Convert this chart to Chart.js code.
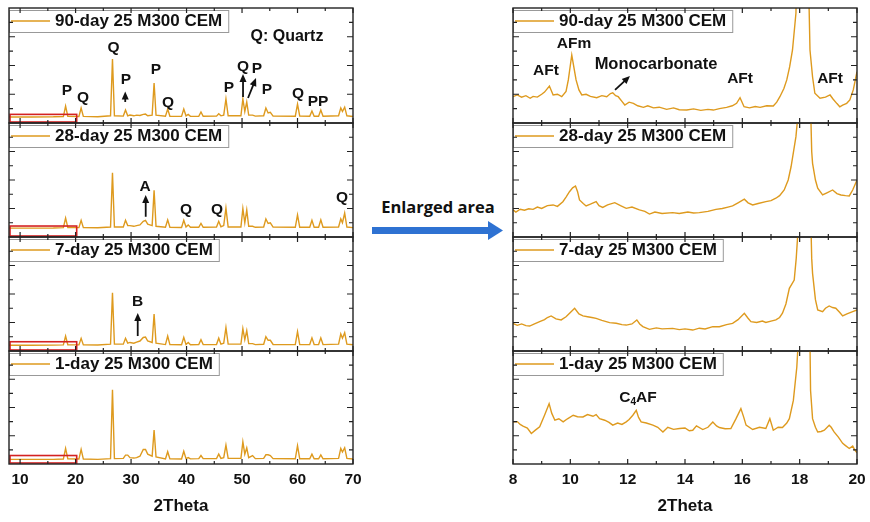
<!DOCTYPE html>
<html>
<head>
<meta charset="utf-8">
<script src="https://cdn.jsdelivr.net/npm/chart.js@4.4.0/dist/chart.umd.min.js"></script>
<style>
  body { margin: 0; background: #fff; width: 870px; height: 522px; position: relative; overflow: hidden; }
  canvas { position: absolute; }
  #enlarged { position: absolute; left: 360px; top: 195px; width: 156px; text-align: center;
              font: bold 16.5px "Open Sans", Lato, sans-serif; color: #111; }
  #blueArrow { position: absolute; left: 370px; top: 220px; }
</style>
</head>
<body>
<div id="enlarged">Enlarged area</div>
<svg id="blueArrow" width="136" height="22">
  <rect x="2" y="7" width="118" height="7" fill="#2E72D2"></rect>
  <polygon points="118,1 133,10.5 118,20" fill="#2E72D2"></polygon>
</svg>
<script>
// ---- data ----
var sampleLabels = ['90-day 25 M300 CEM', '28-day 25 M300 CEM', '7-day 25 M300 CEM', '1-day 25 M300 CEM'];

// full scan, 2Theta 8-70 (shared x for all four ages)
var fullX = [8, 12, 16, 17.8, 18.2, 18.6, 20.6, 21.0, 21.4, 24, 26.3, 26.65, 27.0, 28.6, 29.0, 29.4, 29.8, 30.5, 31.0, 31.6,
  32.2, 32.6, 33.0, 33.8, 34.15, 34.5, 36.2, 36.6, 37.0, 39.1, 39.5, 39.9, 40.3, 40.7, 42.2, 42.6, 43.0, 45.4, 45.8, 46.2,
  46.7, 47.1, 47.5, 49.8, 50.15, 50.5, 50.85, 51.2, 51.9, 52.4, 53.9, 54.3, 54.7, 55.1, 55.6, 59.6, 60.0, 60.4, 62.2, 62.6,
  63.0, 63.8, 64.2, 64.6, 67.4, 67.8, 68.1, 68.5, 68.9, 70];
var full90 = [0.42, 0.42, 0.43, 0.45, 1.18, 0.46, 0.45, 1.04, 0.46, 0.44, 0.50, 4.45, 0.50, 0.48, 0.90, 0.50, 0.55, 0.50, 0.55, 0.52,
  0.60, 0.62, 0.50, 0.55, 2.78, 0.55, 0.47, 0.97, 0.47, 0.46, 0.97, 0.50, 0.60, 0.46, 0.47, 0.77, 0.47, 0.48, 0.65, 0.50,
  0.55, 1.67, 0.50, 0.50, 1.67, 0.80, 1.46, 0.55, 0.55, 0.48, 0.50, 1.04, 0.70, 0.75, 0.48, 0.47, 1.32, 0.48, 0.47, 0.83,
  0.47, 0.47, 0.90, 0.47, 0.50, 1.05, 0.80, 1.10, 0.50, 0.45];
var full28 = [0.62, 0.62, 0.63, 0.66, 1.33, 0.67, 0.66, 1.17, 0.66, 0.65, 0.70, 4.50, 0.70, 0.70, 1.17, 0.80, 0.80, 0.75, 0.80, 0.85,
  1.10, 1.17, 0.90, 0.80, 3.27, 0.75, 0.68, 1.20, 0.68, 0.67, 1.17, 0.70, 0.85, 0.68, 0.68, 0.95, 0.68, 0.70, 1.10, 0.72,
  0.80, 2.03, 0.70, 0.70, 2.00, 1.00, 1.90, 0.75, 0.75, 0.68, 0.70, 1.27, 0.95, 1.00, 0.70, 0.68, 1.55, 0.68, 0.68, 1.17,
  0.68, 0.68, 1.20, 0.68, 0.70, 1.27, 1.00, 1.67, 0.70, 0.66];
var full7 = [0.40, 0.40, 0.41, 0.43, 1.05, 0.44, 0.43, 0.89, 0.43, 0.42, 0.48, 4.09, 0.48, 0.48, 0.89, 0.55, 0.60, 0.55, 0.62, 0.70,
  0.95, 0.98, 0.70, 0.60, 2.60, 0.55, 0.45, 1.05, 0.45, 0.44, 0.96, 0.46, 0.60, 0.44, 0.45, 0.80, 0.45, 0.46, 0.90, 0.48,
  0.55, 1.64, 0.48, 0.48, 1.57, 0.80, 1.43, 0.52, 0.52, 0.45, 0.47, 1.00, 0.75, 0.75, 0.46, 0.45, 1.36, 0.45, 0.45, 0.92,
  0.45, 0.45, 0.92, 0.45, 0.48, 1.20, 0.90, 1.28, 0.48, 0.44];
var full1 = [0.33, 0.33, 0.33, 0.35, 1.10, 0.36, 0.35, 1.03, 0.35, 0.33, 0.38, 5.26, 0.38, 0.40, 0.63, 0.63, 0.45, 0.42, 0.45, 0.55,
  1.03, 1.03, 0.70, 0.55, 2.40, 0.50, 0.36, 0.87, 0.36, 0.35, 0.90, 0.38, 0.45, 0.36, 0.38, 0.60, 0.38, 0.38, 0.70, 0.40,
  0.45, 1.34, 0.40, 0.40, 1.57, 0.70, 1.15, 0.45, 0.60, 0.38, 0.40, 0.65, 0.65, 0.60, 0.38, 0.37, 1.30, 0.37, 0.37, 0.70,
  0.37, 0.37, 0.65, 0.37, 0.40, 1.10, 0.85, 1.15, 0.40, 0.35];

// enlarged area, 2Theta 8-20
var zoom90X = [8.0, 8.15, 8.3, 8.45, 8.6, 8.7, 8.85, 9.0, 9.1, 9.27, 9.4, 9.55, 9.7, 9.85, 9.93, 10.05, 10.2, 10.3, 10.4, 10.55,
  10.7, 10.92, 11.1, 11.27, 11.4, 11.48, 11.58, 11.67, 11.8, 11.9, 12.05, 12.2, 12.35, 12.55, 12.7, 12.9, 13.1, 13.36, 13.6, 13.8,
  14.06, 14.3, 14.55, 14.8, 14.99, 15.2, 15.45, 15.65, 15.8, 15.92, 16.06, 16.25, 16.45, 16.62, 16.85, 17.08, 17.2, 17.31, 17.45, 17.55,
  17.65, 17.75, 17.87, 18.1, 18.36, 18.45, 18.53, 18.71, 18.9, 19.06, 19.17, 19.3, 19.4, 19.5, 19.64, 19.75, 19.87, 20.0];
var zoom90Y = [1.83, 1.95, 1.80, 1.90, 1.72, 1.85, 1.80, 2.00, 2.15, 2.57, 1.95, 2.00, 1.83, 2.20, 3.00, 4.73, 3.00, 2.30, 1.95, 2.00,
  1.85, 1.76, 1.90, 1.83, 2.05, 2.10, 1.90, 1.83, 1.50, 1.25, 1.45, 1.37, 1.20, 1.09, 1.20, 1.05, 1.10, 0.95, 1.05, 0.92,
  0.90, 0.98, 0.88, 0.95, 0.90, 1.00, 1.09, 1.20, 1.37, 1.76, 1.13, 1.05, 1.15, 1.09, 1.20, 1.18, 1.45, 1.83, 2.40, 3.00,
  3.90, 5.08, 7.63, 30, 5.08, 3.20, 2.07, 1.72, 1.80, 1.95, 1.65, 1.35, 1.13, 1.25, 1.37, 1.60, 2.30, 3.57];

var zoom28X = [8.0, 8.1, 8.25, 8.4, 8.55, 8.7, 8.85, 9.0, 9.2, 9.4, 9.55, 9.74, 9.85, 9.97, 10.08, 10.18, 10.25, 10.32, 10.45, 10.55,
  10.7, 10.9, 11.0, 11.13, 11.3, 11.55, 11.75, 11.95, 12.15, 12.41, 12.6, 12.76, 12.95, 13.2, 13.57, 13.8, 14.1, 14.3, 14.5, 14.8,
  15.08, 15.3, 15.5, 15.66, 15.85, 16.07, 16.2, 16.36, 16.55, 16.82, 17.0, 17.17, 17.3, 17.46, 17.6, 17.7, 17.87, 17.96, 18.12, 18.42,
  18.45, 18.55, 18.63, 18.8, 18.95, 19.15, 19.3, 19.44, 19.6, 19.73, 19.85, 20.0];
var zoom28Y = [1.90, 1.75, 1.95, 1.88, 1.98, 1.94, 2.10, 2.00, 2.20, 2.25, 2.15, 2.48, 2.80, 3.18, 3.45, 3.58, 3.20, 2.60, 2.35, 2.18,
  2.30, 2.48, 2.20, 2.08, 2.25, 2.41, 2.20, 2.01, 2.10, 1.90, 1.80, 1.61, 1.75, 1.65, 1.71, 1.65, 1.75, 1.68, 1.71, 1.80,
  1.94, 2.00, 2.10, 2.18, 2.40, 2.65, 2.40, 2.25, 2.35, 2.48, 2.55, 2.72, 2.90, 3.30, 4.00, 4.93, 7.04, 9.00, 30, 6.00,
  5.17, 4.00, 3.42, 2.95, 3.10, 3.30, 3.05, 2.95, 2.90, 2.88, 3.30, 4.00];

var zoom7X = [8.0, 8.15, 8.3, 8.45, 8.58, 8.75, 8.93, 9.1, 9.2, 9.33, 9.5, 9.68, 9.85, 10.0, 10.15, 10.3, 10.44, 10.6, 10.75, 10.9,
  11.1, 11.37, 11.6, 11.8, 11.95, 12.15, 12.32, 12.42, 12.53, 12.76, 13.0, 13.2, 13.57, 13.8, 14.0, 14.27, 14.5, 14.7, 14.97, 15.2,
  15.45, 15.66, 15.85, 16.07, 16.2, 16.3, 16.5, 16.7, 16.82, 17.0, 17.17, 17.3, 17.4, 17.52, 17.64, 17.81, 17.88, 17.96, 18.15, 18.42,
  18.45, 18.55, 18.63, 18.8, 18.9, 19.03, 19.15, 19.26, 19.4, 19.5, 19.65, 19.85, 20.0];
var zoom7Y = [1.94, 1.80, 1.90, 1.78, 1.75, 1.90, 2.06, 2.20, 2.35, 2.46, 2.25, 2.18, 2.40, 2.70, 3.00, 2.60, 2.46, 2.40, 2.35, 2.29,
  2.15, 1.99, 1.95, 1.85, 1.82, 1.90, 2.18, 1.90, 1.71, 1.52, 1.62, 1.55, 1.59, 1.50, 1.55, 1.47, 1.60, 1.55, 1.71, 1.70,
  1.85, 1.94, 2.20, 2.65, 2.30, 2.06, 2.00, 2.10, 2.00, 2.10, 2.18, 2.35, 2.65, 3.30, 4.40, 4.98, 6.50, 9.00, 30, 6.50,
  5.45, 3.60, 2.88, 2.76, 3.00, 3.16, 3.05, 3.00, 2.70, 2.46, 2.60, 2.76, 2.88];

var zoom1X = [8.0, 8.15, 8.25, 8.35, 8.5, 8.64, 8.78, 8.93, 9.1, 9.26, 9.35, 9.46, 9.6, 9.75, 9.9, 10.1, 10.25, 10.44, 10.6, 10.79,
  10.9, 11.02, 11.2, 11.35, 11.48, 11.65, 11.8, 11.95, 12.05, 12.18, 12.3, 12.38, 12.47, 12.65, 12.88, 13.05, 13.23, 13.4, 13.6, 13.81,
  14.0, 14.15, 14.27, 14.4, 14.62, 14.8, 14.97, 15.1, 15.2, 15.4, 15.6, 15.78, 15.95, 16.05, 16.13, 16.36, 16.6, 16.82, 16.96, 17.08,
  17.25, 17.4, 17.55, 17.64, 17.78, 17.9, 17.96, 18.15, 18.36, 18.38, 18.45, 18.55, 18.63, 18.75, 18.86, 19.03, 19.1, 19.2, 19.35, 19.5,
  19.6, 19.73, 19.85, 19.92, 20.0];
var zoom1Y = [2.98, 3.00, 2.80, 2.68, 2.55, 2.16, 2.40, 2.63, 3.45, 4.27, 3.60, 3.10, 3.20, 2.98, 3.20, 3.45, 3.35, 3.33, 3.50, 3.38,
  3.50, 3.21, 3.10, 2.95, 2.75, 2.90, 2.80, 2.98, 3.15, 3.45, 3.80, 3.30, 2.98, 2.90, 2.75, 2.60, 2.27, 2.60, 2.45, 2.51,
  2.55, 2.35, 2.39, 2.70, 2.44, 2.60, 2.98, 2.70, 2.58, 2.50, 2.51, 3.21, 3.92, 3.30, 2.75, 2.44, 2.60, 2.51, 3.21, 2.39,
  2.60, 2.58, 2.90, 3.21, 4.50, 6.85, 9.00, 30, 8.50, 5.20, 3.21, 2.60, 2.27, 2.30, 2.39, 2.75, 2.60, 2.27, 1.90, 1.46,
  1.30, 1.10, 1.27, 1.00, 0.80];

var fullTicks = [10, 20, 30, 40, 50, 60, 70];
var zoomTicks = [8, 10, 12, 14, 16, 18, 20];

// ---- drawing ----
var FONT = '"Liberation Sans", Arial, sans-serif';
var ORANGE = '#DE9A1E';
var rowTop = [8, 123, 237, 351];
var rowBottom = [123, 237, 351, 464];
var PAD = 20;   // side room in each canvas so edge tick labels never squeeze the plot
var panelCfg = {};

function drawArrow(ctx, x0, y0, x1, y1) {
  var ang = Math.atan2(y1 - y0, x1 - x0);
  ctx.strokeStyle = '#111'; ctx.fillStyle = '#111'; ctx.lineWidth = 1.8;
  ctx.beginPath();
  ctx.moveTo(x0, y0);
  ctx.lineTo(x1 - 6 * Math.cos(ang), y1 - 6 * Math.sin(ang));
  ctx.stroke();
  ctx.beginPath();
  ctx.moveTo(x1, y1);
  ctx.lineTo(x1 - 8 * Math.cos(ang) + 3.5 * Math.sin(ang), y1 - 8 * Math.sin(ang) - 3.5 * Math.cos(ang));
  ctx.lineTo(x1 - 8 * Math.cos(ang) - 3.5 * Math.sin(ang), y1 - 8 * Math.sin(ang) + 3.5 * Math.cos(ang));
  ctx.closePath();
  ctx.fill();
}

var decorPlugin = {
  id: 'decor',
  afterDatasetsDraw: function (chart) {
    var cfg = panelCfg[chart.canvas.id];
    var ctx = chart.ctx, a = chart.chartArea;
    var xs = chart.scales.x, ys = chart.scales.y;
    ctx.save();

    // red box marking the enlarged range
    if (cfg.box) {
      var bx0 = xs.getPixelForValue(cfg.box[0]), bx1 = xs.getPixelForValue(cfg.box[1]);
      var byTop = ys.getPixelForValue(cfg.box[2]);
      ctx.strokeStyle = '#D42222'; ctx.lineWidth = 1.6;
      ctx.strokeRect(bx0 + 1, byTop, bx1 - bx0 - 1, a.bottom - byTop - 1);
    }

    // legend box
    ctx.font = 'bold 17px ' + FONT;
    var tw = ctx.measureText(cfg.label).width;
    var lx = a.left, ly = a.top + 2;
    ctx.fillStyle = '#fff';
    ctx.fillRect(lx, ly, 52 + tw, 22);
    ctx.strokeStyle = '#999'; ctx.lineWidth = 1;
    ctx.strokeRect(lx + 0.5, ly + 0.5, 52 + tw, 22);
    ctx.strokeStyle = ORANGE; ctx.lineWidth = 1.5;
    ctx.beginPath(); ctx.moveTo(lx + 2, ly + 11); ctx.lineTo(lx + 41, ly + 11); ctx.stroke();
    ctx.fillStyle = '#111'; ctx.textAlign = 'left'; ctx.textBaseline = 'middle';
    ctx.fillText(cfg.label, lx + 46, ly + 11.5);

    // frame + inward ticks
    ctx.strokeStyle = '#222'; ctx.lineWidth = 1.4;
    ctx.strokeRect(a.left, a.top, a.right - a.left, a.bottom - a.top);
    ctx.lineWidth = 1.2;
    ctx.beginPath();
    for (var v = cfg.tickFrom; v <= xs.max + 1e-6; v += cfg.tickStep) {
      var px = xs.getPixelForValue(v);
      var len = Math.abs(v % cfg.tickMajor) < 1e-6 ? 5 : 3;
      ctx.moveTo(px, a.bottom); ctx.lineTo(px, a.bottom - len);
      ctx.moveTo(px, a.top); ctx.lineTo(px, a.top + len);
    }
    for (var k = 1; k < ys.max; k++) {
      var py = ys.getPixelForValue(k);
      var l2 = k % 2 === 0 ? 6 : 4;
      ctx.moveTo(a.left, py); ctx.lineTo(a.left + l2, py);
      ctx.moveTo(a.right, py); ctx.lineTo(a.right - l2, py);
    }
    ctx.stroke();

    // peak labels and arrows
    ctx.textAlign = 'center'; ctx.textBaseline = 'middle';
    cfg.notes.forEach(function (n) {
      if (n.arrow) {
        drawArrow(ctx, xs.getPixelForValue(n.arrow[0]), ys.getPixelForValue(n.arrow[1]),
                  xs.getPixelForValue(n.arrow[2]), ys.getPixelForValue(n.arrow[3]));
        return;
      }
      var nx = xs.getPixelForValue(n.x), ny = ys.getPixelForValue(n.y);
      ctx.fillStyle = '#111';
      ctx.font = 'bold ' + (n.size || 15.5) + 'px ' + FONT;
      if (n.sub) {
        // C4AF with subscript
        var big = 'bold 15.5px ' + FONT, small = 'bold 10px ' + FONT;
        ctx.font = big; var w1 = ctx.measureText('C').width, w3 = ctx.measureText('AF').width;
        ctx.font = small; var w2 = ctx.measureText('4').width;
        var sx = nx - (w1 + w2 + w3) / 2;
        ctx.textAlign = 'left';
        ctx.font = big; ctx.fillText('C', sx, ny);
        ctx.font = small; ctx.fillText('4', sx + w1, ny + 5);
        ctx.font = big; ctx.fillText('AF', sx + w1 + w2, ny);
        ctx.textAlign = 'center';
      } else {
        ctx.fillText(n.t, nx, ny);
      }
    });
    ctx.restore();
  }
};

function makePanel(id, plotLeft, row, xs, ys, xMin, xMax, tickVals, cfg) {
  var bottom = row === 3;
  var c = document.createElement('canvas');
  c.id = id;
  var top = rowTop[row] - 4;
  var w = 344 + 2 * PAD;
  var h = bottom ? 522 - top : rowBottom[row] - rowTop[row] + 8;
  c.width = w; c.height = h;
  c.style.width = w + 'px'; c.style.height = h + 'px';
  c.style.left = (plotLeft - PAD) + 'px';
  c.style.top = top + 'px';
  document.body.appendChild(c);
  panelCfg[id] = cfg;

  var pts = xs.map(function (x, i) { return { x: x, y: ys[i] }; });
  new Chart(c, {
    type: 'line',
    data: { datasets: [{ data: pts, borderColor: ORANGE, borderWidth: 1.4, pointRadius: 0, tension: 0, fill: false }] },
    options: {
      responsive: false, maintainAspectRatio: false, animation: false, events: [],
      layout: { padding: { left: PAD, right: PAD, top: 4, bottom: bottom ? 0 : 4 } },
      plugins: { legend: { display: false }, tooltip: { enabled: false } },
      scales: {
        x: {
          type: 'linear', min: xMin, max: xMax, display: bottom,
          grid: { display: false, drawTicks: false }, border: { display: false },
          ticks: { color: '#111', padding: 6, maxRotation: 0, minRotation: 0, autoSkip: false,
                   font: { family: FONT, size: 15.5, weight: 'bold' } },
          afterBuildTicks: function (s) { s.ticks = tickVals.map(function (v) { return { value: v }; }); },
          afterFit: function (s) { if (bottom) s.height = 58; },
          title: { display: true, text: '2Theta', color: '#111', padding: { top: 4, bottom: 5 },
                   font: { family: FONT, size: 17, weight: 'bold' } }
        },
        y: { type: 'linear', min: 0, max: 8, display: false }
      }
    },
    plugins: [decorPlugin]
  });
}

var fullSeries = [full90, full28, full7, full1];
var fullBoxTop = [0.6, 0.77, 0.65, 0.6];
var fullNotes = [
  [{ t: 'Q: Quartz', x: 58.1, y: 5.98, size: 16 }, { t: 'Q', x: 26.84, y: 5.22 }, { t: 'P', x: 18.45, y: 2.23 },
   { t: 'Q', x: 21.34, y: 1.74 }, { t: 'P', x: 29.09, y: 2.99 }, { arrow: [28.95, 1.46, 28.95, 2.2] },
   { t: 'P', x: 34.5, y: 3.69 }, { t: 'Q', x: 36.66, y: 1.39 }, { t: 'P', x: 47.65, y: 2.43 },
   { t: 'Q', x: 50.18, y: 3.9 }, { arrow: [50.18, 1.81, 50.18, 3.41] }, { t: 'P', x: 52.7, y: 3.76 },
   { arrow: [51.08, 1.74, 52.52, 3.13] }, { t: 'P', x: 54.5, y: 2.3 }, { t: 'Q', x: 60.09, y: 2.02 },
   { t: 'PP', x: 63.7, y: 1.46 }],
  [{ t: 'A', x: 32.51, y: 3.51 }, { arrow: [32.64, 1.42, 32.64, 2.95] }, { t: 'Q', x: 39.9, y: 1.89 },
   { t: 'Q', x: 45.49, y: 1.89 }, { t: 'Q', x: 68.02, y: 2.74 }],
  [{ t: 'B', x: 31.16, y: 3.44 }, { arrow: [31.2, 1.05, 31.2, 2.67] }],
  []
];
var zoomSeries = [[zoom90X, zoom90Y], [zoom28X, zoom28Y], [zoom7X, zoom7Y], [zoom1X, zoom1Y]];
var zoomNotes = [
  [{ t: 'AFt', x: 9.15, y: 3.62 }, { t: 'AFm', x: 10.13, y: 5.5 }, { t: 'Monocarbonate', x: 12.99, y: 4.1, size: 16.5 },
   { arrow: [11.56, 2.3, 12.08, 3.27] }, { t: 'AFt', x: 15.92, y: 3.06 }, { t: 'AFt', x: 19.06, y: 3.06 }],
  [], [],
  [{ sub: true, x: 12.36, y: 4.72 }]
];

for (var r = 0; r < 4; r++) {
  makePanel('full' + r, 9, r, fullX, fullSeries[r], 8, 70, fullTicks,
    { label: sampleLabels[r], box: [8, 20.2, fullBoxTop[r]], tickFrom: 10, tickStep: 5, tickMajor: 10, notes: fullNotes[r] });
  makePanel('zoom' + r, 513, r, zoomSeries[r][0], zoomSeries[r][1], 8, 20, zoomTicks,
    { label: sampleLabels[r], box: null, tickFrom: 8, tickStep: 1, tickMajor: 2, notes: zoomNotes[r] });
}
</script>
</body>
</html>
